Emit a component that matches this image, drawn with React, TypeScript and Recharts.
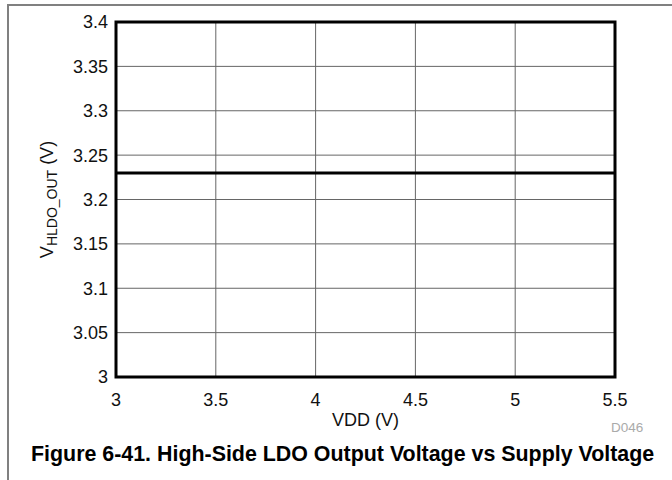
import React from 'react';
import { LineChart, Line, XAxis, YAxis, CartesianGrid, ReferenceArea, Label } from 'recharts';

const vdd = [3, 3.5, 4, 4.5, 5, 5.5];
const vout = [3.23, 3.23, 3.23, 3.23, 3.23, 3.23];
const xTicks = [3, 3.5, 4, 4.5, 5, 5.5];
const yTicks = [3, 3.05, 3.1, 3.15, 3.2, 3.25, 3.3, 3.35, 3.4];

const data = vdd.map((x, i) => ({ x, y: vout[i] }));

const FONT = '"Liberation Sans", Arial, Helvetica, sans-serif';

const YLabel = (props: any) => {
  const vb = props.viewBox || { x: 0, y: 0, width: 0, height: 0 };
  const cx = 53;
  const cy = vb.y + vb.height / 2;
  return (
    <text x={cx} y={cy} transform={`rotate(-90 ${cx} ${cy})`} textAnchor="middle" fontFamily={FONT} fontSize={18} fill="#111">
      <tspan>V</tspan>
      <tspan fontSize={14} dy={4}>HLDO_OUT</tspan>
      <tspan dy={-4}> (V)</tspan>
    </text>
  );
};

export default function App() {
  return (
    <div style={{ position: 'absolute', left: 0, top: 0, width: 672, height: 480, background: '#fff', fontFamily: FONT }}>
      <div style={{ position: 'absolute', left: 7, top: 4, width: 665, height: 1.5, background: '#808080' }} />
      <div style={{ position: 'absolute', left: 7, top: 4, width: 1.5, height: 476, background: '#808080' }} />
      <LineChart width={672} height={480} data={data} margin={{ top: 22, right: 57, left: 0, bottom: 53 }}>
        <CartesianGrid stroke="#666" strokeWidth={1} />
        <XAxis
          dataKey="x"
          type="number"
          domain={[3, 5.5]}
          ticks={xTicks}
          height={50}
          axisLine={false}
          tickLine={false}
          tickSize={0}
          tickMargin={16}
          tick={{ fontSize: 18, fill: '#111', fontFamily: FONT }}
          interval={0}
        >
          <Label value="VDD (V)" position="insideBottom" offset={1} style={{ fontSize: 18, fill: '#111', fontFamily: FONT }} />
        </XAxis>
        <YAxis
          type="number"
          domain={[3, 3.4]}
          ticks={yTicks}
          width={116}
          axisLine={false}
          tickLine={false}
          tickSize={0}
          tickMargin={8}
          tick={{ fontSize: 18, fill: '#111', fontFamily: FONT }}
          interval={0}
        >
          <Label content={<YLabel />} />
        </YAxis>
        <ReferenceArea x1={3} x2={5.5} y1={3} y2={3.4} fill="none" stroke="#000" strokeWidth={3} ifOverflow="visible" />
        <Line dataKey="y" stroke="#000" strokeWidth={3} dot={false} isAnimationActive={false} />
      </LineChart>
      <div style={{ position: 'absolute', left: 611, top: 420, fontSize: 13.5, color: '#aaa' }}>D046</div>
      <div style={{ position: 'absolute', left: 31, top: 442, fontSize: 21.4, fontWeight: 'bold', color: '#000', whiteSpace: 'nowrap' }}>
        Figure 6-41. High-Side LDO Output Voltage vs Supply Voltage
      </div>
    </div>
  );
}
